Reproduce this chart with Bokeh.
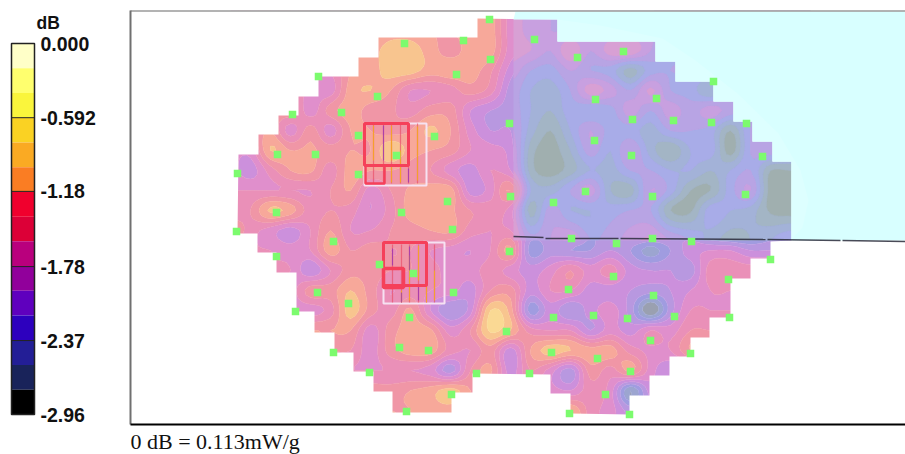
from bokeh.plotting import figure
from bokeh.models import Range1d
from bokeh.core.properties import value
from bokeh.embed import file_html
from bokeh.resources import INLINE
import numpy as np

# ---- colour scale
db_ticks = [0.0, -0.592, -1.18, -1.78, -2.37, -2.96]
tick_labels = ["0.000", "-0.592", "-1.18", "-1.78", "-2.37", "-2.96"]
scale_colors = ["#FFFFC8", "#FFFF6E", "#FAF53C", "#FAD223", "#FAAA23", "#FA7D23", "#F0002D", "#DC0037",
                "#B9007D", "#91009B", "#5F00BE", "#2D00BE", "#231E96", "#19235A", "#000000"]
# the same fifteen bands as they appear on the phantom, open area and liquid-covered area
open_colors = ["#FFF8C0", "#FDF2A8", "#FBE79A", "#FAD994", "#F8C58F", "#F7A89A", "#F096A6", "#EA90B8",
               "#E08FCC", "#CC90DC", "#B898E0", "#A09CE0", "#9CA5D0", "#9AA0B0", "#909090"]
cover_colors = ["#F0C0B0", "#F0C0B0", "#F0C0B0", "#F0B0B0", "#EFA8A8", "#E8A0B0", "#E09FC0", "#DCA0C8",
                "#D8A0D4", "#C8A0E0", "#B8A4E4", "#A8ACE8", "#A3B2D8", "#A3B5C5", "#A0AFAF"]
band_db = 2.96 / 15

# ---- field, in colour-band units (0 = top of scale, 15 = bottom)
grid_x = [230, 250, 270, 290, 310, 330, 350, 370, 390, 410, 430, 450, 470, 490, 510,
          530, 550, 570, 590, 610, 630, 650, 670, 690, 710, 730, 750, 770, 790, 810]
grid_y = list(range(10, 431, 20))
band_grid = [
 [8,8,8,8,8,8,6,6,5.5,5.5,6,6,5.5,5.5,8.5, 9.5,10,10,10,10,10,10,10,10,10,10,10,10,10,10],
 [8,8,8,8,8,8,6,6,5.5,5.5,6,6,5.5,5.5,8.5, 9.5,10,10,10,10,10,10,10,10,10,10,10,10,10,10],
 [8,8,8,8,8,8,6,5.5,4.5,4.5,5.5,6.5,5.5,5.5,8.5, 9,10,8.2,10,8.5,8.2,10,11,11,11,11,11,11,11,11],
 [8,8,8,8,8,8,6,5.5,4.5,4.5,5.5,5.2,5.5,6.8,9.5, 11,11.5,10,11,11.5,13.5,11.5,11,11,11,11,11,11,11,11],
 [8,8,8,8,8,8.5,5.5,5,6,8,8,7.5,6.5,7.5,10.5, 12,12.5,11,8.5,9.5,11,8.8,11,11.5,13,11,11,11,11,11],
 [7,7,7,6.5,8.5,6.5,5.5,6.5,6.8,7.5,6.5,6.5,9,10,10.5, 12,13,11.5,12,11.5,9.5,11,9.5,10.5,9.5,10.5,11,11,11,11],
 [7,7,6,8.5,6.5,8.5,6,6,6.5,6,4.8,6,8.5,10,10, 12.5,14,12,10,11.5,11.5,12.5,11,11,11.5,14,11,11,11,11],
 [8.5,8.5,5,6,5.8,6.5,6,6,4,5.5,6,6.5,8,8.5,9.5, 13.5,14.5,13,10.5,12,10,12.5,14,12,11.5,14.5,11,10.5,11,11],
 [8.5,9.5,7.5,6,5.8,7.5,5.5,6,6,6.5,7,8.5,9.5,8,9, 13.5,14.5,13.5,12,12.5,11,11,12,12,13,12,11,14,14,14],
 [8,8,8,8,8,7,6,8.5,7,5.8,5.5,5.5,9.5,8.5,6, 12,12.5,11,9.5,13,13.5,10,11.5,14,14,11.5,10,14.5,14.5,14.5],
 [8,7,4.8,5.5,7.5,7,7.5,9,7.5,5.5,5.5,5.8,7,7.5,8.5, 13.5,10.5,12,12,11.5,11,11,14,14.2,11.5,12,12.5,14.2,14.5,14.5],
 [6,7.5,8.5,9.5,8,6,8,8,7,6.5,6,5.8,7.5,8,8, 10.5,10,9,11,10.5,9.5,8.8,10,11,12.5,13.5,13,12,11,11],
 [8,8,8,8.5,8,5.5,7,6.5,7,7,8,8.5,9,8,5.8, 11.5,10.5,11,11,10,11,12.5,11,9.5,9,9,10,10,10,10],
 [8,8,8,8,9.8,8,6.5,6.5,7,7,7.5,8.5,8.5,7.5,8.5, 9.5,8.5,7,8.5,7.5,9.5,10,10,10.5,7.5,7.5,7.5,7.5,7.5,7.5],
 [8,8,8,8.5,6.5,6.5,5,6.5,8,7.5,8,8.5,9.5,7,6.5, 9.5,8,8,9.5,9.5,10,10.5,10,9,8,8,8,8,8,8],
 [8,8,8,8,8.5,7.5,4.5,6.5,7.5,5.8,9,11,9.5,4,5.5, 11.5,9.5,11,9.5,8.5,10.5,14,10.5,8,8,8,8,8,8,8],
 [6,6,6,6,6,6,6,8.5,6.5,5.5,5.8,8.5,7,3.8,5, 7.5,8,8,10,8.5,9.5,8,8.5,7,7,7,7,7,7,7],
 [7,7,7,7,7,7,7,8.5,6.5,5.5,5.5,7.5,8,6.5,9.5, 6,4.5,5,5.5,5.5,7.5,8.2,8,6,6,6,6,6,6,6],
 [8,8,8,8,8,8,8,8,8,8,8.5,10.5,7,5.8,9.5, 7,8.5,10.5,6.5,7.5,5.8,8.5,10,10,10,10,10,10,10,10],
 [6.5,6.5,6.5,6.5,6.5,6.5,6.5,6.5,6.5,6,5.5,4.5,6,7,8, 8,8.5,9,7.5,8.5,13,9.5,9.5,9.5,9.5,9.5,9.5,9.5,9.5,9.5],
 [6,6,6,6,6,6,6,6,6,6,5.5,5.5,6,6,6, 6,6,5,7.5,8.5,10.5,10.5,10.5,10.5,10.5,10.5,10.5,10.5,10.5,10.5],
 [6,6,6,6,6,6,6,6,6,6,5.5,5.5,6,6,6, 6,6,5,7.5,8.5,10.5,10.5,10.5,10.5,10.5,10.5,10.5,10.5,10.5,10.5],
]
# phantom outline
outline_x = [477,557,557,655,655,675,675,713,713,733,733,752,752,772,772,791,791,770,770,750,750,730,730,709,709,690,690,669,669,649,649,629,629,570,570,550,550,472,472,451,451,392,392,373,373,353,353,334,334,314,314,296,296,276,276,257,257,237,238,258,258,278,278,298,298,318,318,358,358,378,378,477]
outline_y = [18,19,41,41,61,61,81,81,101,101,121,121,141,141,161,161,240,241,258,258,278,278,317,317,337,337,356,356,375,375,395,395,414,413,393,393,374,373,392,392,412,412,391,391,371,371,352,352,332,332,311,311,272,272,252,252,233,233,154,154,134,134,115,115,96,96,76,76,57,57,37,37]
arc_x = [792, 802, 808, 800, 778, 737, 695, 662, 600, 557]
arc_y = [238, 227, 200, 170, 133, 93, 60, 38, 25, 19]
edge_x0 = [513, 545, 620, 767, 842]
edge_x1 = [543, 618, 765, 840, 905]
edge_y0 = [236, 238, 238, 239, 240]
edge_y1 = [237, 238, 239, 240, 241]

# measurement points
point_x = [489,463,404,490,456,318,377,341,292,509,358,434,396,277,315,237,358,510,447,401,276,236,452,
           534,577,623,713,595,656,632,673,711,746,594,631,762,585,553,652,745,571,616,652,691,
           333,276,509,379,413,317,453,348,295,409,506,399,428,333,369,476,451,406,
           770,728,613,568,653,593,553,627,674,729,650,551,597,690,630,529,605,569,629]
point_y = [19,40,43,59,74,76,96,112,114,123,135,136,155,154,154,173,174,196,201,212,212,231,229,
           39,57,51,81,99,98,119,120,122,123,140,155,156,191,202,196,194,238,243,238,241,
           241,256,251,264,273,292,292,303,311,317,331,347,350,352,372,373,394,411,
           259,279,276,289,295,315,317,318,316,317,340,352,358,353,371,373,394,413,414]

# devices
device_left = [364, 383]
device_right = [426, 444]
device_top = [123, 242]
device_bottom = [185, 303]
coil_left = [364, 383, 365, 383]
coil_right = [408, 426, 384, 403]
coil_top = [123, 242, 165, 268]
coil_bottom = [165, 285, 183, 287]
coil_width = [3, 3, 2.5, 3.5]
stripe_x = [373, 383, 391, 400, 408, 417, 392, 401, 409, 418, 426, 434]
stripe_top = [123] * 6 + [244] * 6
stripe_bottom = [183] * 6 + [302] * 6
warm_x = [373, 391, 400, 391, 400, 417, 401, 409, 418, 426, 434]
warm_top = [125, 125, 150, 166, 166, 126, 290, 255, 245, 245, 270]
warm_bottom = [160, 160, 180, 182, 182, 180, 302, 300, 280, 302, 300]
cool_x = [383, 408, 392, 409, 418, 401]
cool_top = [125, 168, 248, 246, 285, 292]
cool_bottom = [160, 182, 265, 270, 300, 302]


def smooth_axis(a, factor, axis):
    # Catmull-Rom resampling of the read values, for rounded contour lines
    a = np.moveaxis(a, axis, 0)
    n = a.shape[0]
    t = np.linspace(0, n - 1, (n - 1) * factor + 1)
    i = np.clip(t.astype(int), 0, n - 2)
    f = (t - i).reshape((-1,) + (1,) * (a.ndim - 1))
    p0, p1, p2, p3 = a[np.clip(i - 1, 0, n - 1)], a[i], a[i + 1], a[np.clip(i + 2, 0, n - 1)]
    out = 0.5 * (2 * p1 + (p2 - p0) * f + (2 * p0 - 5 * p1 + 4 * p2 - p3) * f ** 2 + (3 * p1 - p0 - 3 * p2 + p3) * f ** 3)
    return np.moveaxis(out, 0, axis)


def fine(values, factor=5):
    return np.clip(smooth_axis(smooth_axis(values, factor, 0), factor, 1), -2.955, -0.005)


def fine_axis(values, factor=5):
    v = np.asarray(values, dtype=float)
    return np.interp(np.linspace(0, len(v) - 1, (len(v) - 1) * factor + 1), np.arange(len(v)), v)


p = figure(width=905, height=454, x_range=Range1d(0, 905), y_range=Range1d(454, 0),
           output_backend="svg", toolbar_location=None, min_border=0,
           x_axis_location=None, y_axis_location=None, outline_line_color=None,
           background_fill_color="white", border_fill_color="white")
p.grid.visible = False

# decibel scale shares the picture's vertical axis
bar_top, bar_bottom = 43.0, 414.0
px_per_db = (bar_bottom - bar_top) / 2.96
p.extra_y_ranges["db"] = Range1d(-(454 - bar_top) / px_per_db, bar_top / px_per_db)

z = -np.array(band_grid, dtype=float) * band_db
levels = [-2.96 + i * band_db for i in range(16)]
levels[-1] = 0.0

open_rev = open_colors[::-1]
cover_rev = cover_colors[::-1]
p.contour(fine_axis(grid_x), fine_axis(grid_y), fine(z), levels, fill_color=open_rev,
          line_color=open_rev + open_rev[-1:], line_width=0.6)
right_x = [513.0] + grid_x[15:]
right_y = grid_y[:12]
right_y[-1] = 240
right_y[0] = 15
p.contour(fine_axis(right_x), fine_axis(right_y), fine(z[:12, 14:]), levels, fill_color=cover_rev,
          line_color=cover_rev + cover_rev[-1:], line_width=0.6)

frame_x = [130, 905, 905, 130]
frame_y = [10, 10, 454, 454]
p.multi_polygons(xs=[[[frame_x, outline_x]]], ys=[[[frame_y, outline_y]]], fill_color="white", line_color=None)

stair_x = outline_x[1:17]
stair_y = outline_y[1:17]
p.patch([515, 905, 905] + stair_x[::-1] + [513], [11, 11, 240] + stair_y[::-1] + [19], color="#D8FFFF", line_color=None)
p.patch(stair_x + arc_x, stair_y + arc_y, color="#DDFFFF", line_color=None)
p.segment(edge_x0, edge_y0, edge_x1, edge_y1, line_color="#2A2A3A", line_width=1.5, line_alpha=0.85)

# picture frame
p.line([130, 905], [10.5, 10.5], line_color="#9A9A9A", line_width=1.5)
p.line([130, 130], [10, 424], line_color="#707070", line_width=2)
p.line([130, 905], [424, 424], line_color="#000000", line_width=2)

# devices
p.quad(left=device_left, right=device_right, top=device_top, bottom=device_bottom,
       fill_color=None, line_color="#F6E2F2", line_width=2)
p.segment(stripe_x, stripe_top, stripe_x, stripe_bottom, line_color="#E8506A", line_width=1.2, line_alpha=0.7)
p.segment(warm_x, warm_top, warm_x, warm_bottom, line_color="#F5A623", line_width=1.1, line_alpha=0.9)
p.segment(cool_x, cool_top, cool_x, cool_bottom, line_color="#8A2BC0", line_width=1.1, line_alpha=0.65)
p.quad(left=coil_left, right=coil_right, top=coil_top, bottom=coil_bottom,
       fill_color=None, line_color="#F5405A", line_width=coil_width)

p.scatter(point_x, point_y, marker="square", size=7.5, color="#7CFB6E", line_color=None)

# colour bar
edges = [-i * band_db for i in range(16)]
p.quad(left=11, right=34, top=edges[:-1], bottom=edges[1:], fill_color=scale_colors, line_color=None, y_range_name="db")
p.quad(left=[11], right=[34], top=[edges[0]], bottom=[edges[-1]], fill_color=None, line_color="#222222",
       line_width=1.5, y_range_name="db")
p.segment(x0=11, x1=34, y0=db_ticks[1:5], y1=db_ticks[1:5], line_color="#222222", line_width=1, y_range_name="db")
p.text(x=[40] * 6, y=db_ticks, text=tick_labels, text_font=value("Liberation Sans"), text_font_style="bold",
       text_font_size="19.5px", text_color="#111111", text_baseline="middle", y_range_name="db")
p.text(x=[36], y=[22.5], text=["dB"], text_font=value("Liberation Sans"), text_font_style="bold",
       text_font_size="17.5px", text_color="#111111", text_baseline="middle")
p.text(x=[130], y=[441], text=["0 dB = 0.113mW/g"], text_font=value("Liberation Serif"),
       text_font_size="22px", text_color="#111111", text_baseline="middle")

open("out.html", "w").write(file_html(p, INLINE))
